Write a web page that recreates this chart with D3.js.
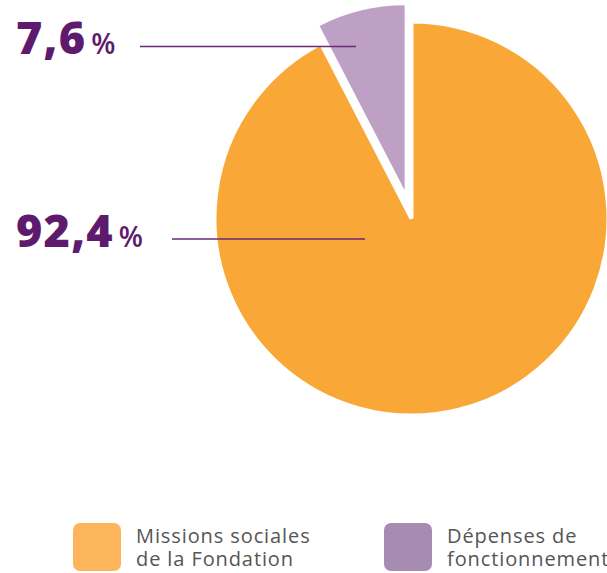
<!DOCTYPE html>
<html>
<head>
<meta charset="utf-8">
<script src="https://cdn.jsdelivr.net/npm/d3@7"></script>
<style>
  body { margin: 0; background: #fff; }
  svg { display: block; }
</style>
</head>
<body>
<div class="chart"></div>
<script>
var width = 607,
    height = 573;

// data
var categories = ["Missions sociales de la Fondation", "Dépenses de fonctionnement"],
    values = [92.4, 7.6],
    valueLabels = ["92,4", "7,6"],
    legendLines = [["Missions sociales", "de la Fondation"], ["Dépenses de", "fonctionnement"]];

var sliceColors = ["#F9A838", "#BFA0C5"],
    swatchColors = ["#FDB55C", "#A88BB1"],
    labelColor = "#5E1B6E";

var cx = 411.5, cy = 218.5,
    radius = 197,
    smallRadius = 185,
    explode = 29;

var svg = d3.select("div.chart")
    .append("svg")
    .attr("width", width)
    .attr("height", height);

var pie = d3.pie().sort(null).value(function(d) { return d; });
var arcs = pie(values);

var bigArc = d3.arc().innerRadius(0).outerRadius(radius),
    smallArc = d3.arc().innerRadius(0).outerRadius(smallRadius);

var g = svg.append("g").attr("transform", "translate(" + cx + "," + cy + ")");

g.selectAll("path.slice")
    .data(arcs)
    .enter()
    .append("path")
    .attr("class", "slice")
    .attr("d", function(d, i) { return i == 0 ? bigArc(d) : smallArc(d); })
    .attr("transform", function(d, i) {
        if (i == 0) return null;
        var mid = (d.startAngle + d.endAngle) / 2;
        return "translate(" + (Math.sin(mid) * explode) + "," + (-Math.cos(mid) * explode) + ")";
    })
    .attr("fill", function(d, i) { return sliceColors[i]; })
    .attr("stroke", function(d, i) { return i == 0 ? "#fff" : "none"; })
    .attr("stroke-width", 4)
    .attr("stroke-linejoin", "miter");

// value labels with leader lines
var labelPos = [
    {x: 16, y: 247, lineX1: 172, lineX2: 365, lineY: 239},
    {x: 16, y: 54, lineX1: 140, lineX2: 356, lineY: 46.5}
];

labelPos.forEach(function(p, i) {
    var t = svg.append("text")
        .attr("x", p.x)
        .attr("y", p.y)
        .attr("fill", labelColor)
        .attr("font-family", "'Open Sans', sans-serif");
    t.append("tspan")
        .attr("font-size", 45)
        .attr("font-weight", 800)
        .attr("letter-spacing", 1.2)
        .text(valueLabels[i]);
    t.append("tspan")
        .attr("dx", 5)
        .attr("font-size", 28)
        .attr("font-weight", 600)
        .text("%");

    svg.append("line")
        .attr("x1", p.lineX1)
        .attr("x2", p.lineX2)
        .attr("y1", p.lineY)
        .attr("y2", p.lineY)
        .attr("stroke", "#6A2A78")
        .attr("stroke-width", 1.5);
});

// legend
var legendX = [73, 384];
var legend = svg.selectAll("g.legend")
    .data(categories)
    .enter()
    .append("g")
    .attr("class", "legend")
    .attr("transform", function(d, i) { return "translate(" + legendX[i] + ",523)"; });

legend.append("rect")
    .attr("width", 48)
    .attr("height", 48)
    .attr("rx", 7)
    .attr("fill", function(d, i) { return swatchColors[i]; });

legend.each(function(d, i) {
    var lg = d3.select(this);
    legendLines[i].forEach(function(line, j) {
        lg.append("text")
            .attr("x", 63)
            .attr("y", 20 + j * 23)
            .attr("fill", "#555")
            .attr("font-family", "'Open Sans', sans-serif")
            .attr("font-size", 20)
            .attr("letter-spacing", 0.9)
            .text(line);
    });
});
</script>
</body>
</html>
